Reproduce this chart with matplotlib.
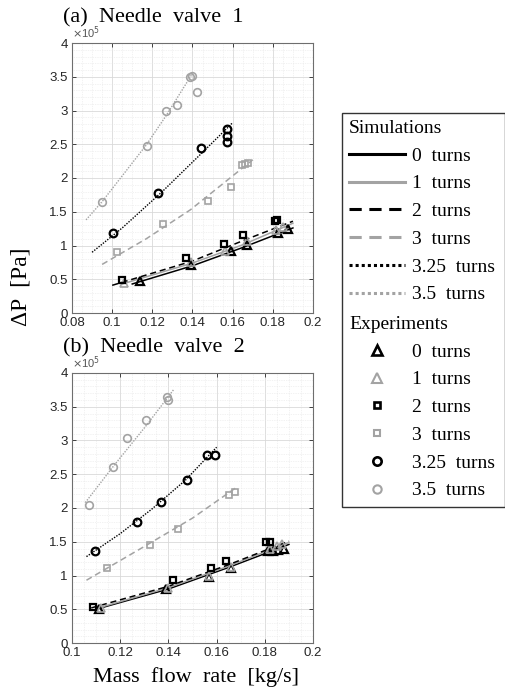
import numpy as np
import matplotlib
matplotlib.use('Agg')
import matplotlib.pyplot as plt
from matplotlib.lines import Line2D
from matplotlib.patches import Rectangle
from matplotlib.ticker import MultipleLocator, FuncFormatter

SERIF = 'Liberation Serif'
SANS = 'Liberation Sans'

TURNS = ['0', '1', '2', '3', '3.25', '3.5']
COLORS = ['black', '#a3a3a3', 'black', '#a3a3a3', 'black', '#a3a3a3']
LSTYLES = ['-', '-', (0, (4, 2.5)), (0, (4, 2.5)), (0, (1, 1)), (0, (1, 1))]
MARKERS = ['^', '^', 's', 's', 'o', 'o']
MSIZE = [6, 6, 4.5, 4.5, 5.5, 5.5]

# ---- (a) Needle valve 1 : simulations (dP in 1e5 Pa) ----
a_sim0_x = [0.110, 0.140, 0.165, 0.190]
a_sim0_y = [0.43, 0.70, 0.97, 1.26]
a_sim1_x = [0.105, 0.140, 0.165, 0.190]
a_sim1_y = [0.43, 0.74, 1.01, 1.33]
a_sim2_x = [0.100, 0.140, 0.165, 0.190]
a_sim2_y = [0.41, 0.77, 1.07, 1.36]
a_sim3_x = [0.095, 0.117, 0.139, 0.170]
a_sim3_y = [0.72, 1.10, 1.53, 2.27]
a_sim325_x = [0.090, 0.105, 0.125, 0.145, 0.160]
a_sim325_y = [0.90, 1.26, 1.80, 2.38, 2.82]
a_sim35_x = [0.087, 0.095, 0.117, 0.127, 0.140]
a_sim35_y = [1.38, 1.65, 2.49, 2.93, 3.55]

# ---- (a) experiments ----
a_exp0_x = [0.1140, 0.1395, 0.1594, 0.1669, 0.1827, 0.1876]
a_exp0_y = [0.48, 0.71, 0.92, 1.01, 1.18, 1.24]
a_exp1_x = [0.1060, 0.1395, 0.1560, 0.1670, 0.1818, 0.1850]
a_exp1_y = [0.44, 0.76, 0.92, 1.07, 1.23, 1.28]
a_exp2_x = [0.1050, 0.1370, 0.1558, 0.1652, 0.1810, 0.1823]
a_exp2_y = [0.49, 0.81, 1.02, 1.16, 1.37, 1.38]
a_exp3_x = [0.1022, 0.1255, 0.1478, 0.1590, 0.1645, 0.1660, 0.1675]
a_exp3_y = [0.90, 1.32, 1.66, 1.87, 2.19, 2.21, 2.22]
a_exp325_x = [0.1002, 0.1229, 0.1442, 0.1572, 0.1572, 0.1572]
a_exp325_y = [1.185, 1.78, 2.44, 2.72, 2.62, 2.54]
a_exp35_x = [0.0949, 0.1173, 0.1268, 0.1324, 0.1387, 0.1399, 0.1420]
a_exp35_y = [1.64, 2.48, 2.99, 3.08, 3.50, 3.51, 3.27]

# ---- (b) Needle valve 2 : simulations ----
b_sim0_x = [0.110, 0.140, 0.165, 0.190]
b_sim0_y = [0.50, 0.80, 1.12, 1.46]
b_sim1_x = [0.110, 0.140, 0.165, 0.190]
b_sim1_y = [0.51, 0.82, 1.14, 1.49]
b_sim2_x = [0.108, 0.140, 0.165, 0.190]
b_sim2_y = [0.52, 0.84, 1.16, 1.51]
b_sim3_x = [0.106, 0.130, 0.150, 0.168]
b_sim3_y = [0.93, 1.43, 1.85, 2.30]
b_sim325_x = [0.106, 0.120, 0.133, 0.147, 0.160]
b_sim325_y = [1.28, 1.62, 1.98, 2.41, 2.90]
b_sim35_x = [0.1055, 0.1172, 0.131, 0.1421]
b_sim35_y = [2.08, 2.62, 3.23, 3.75]

# ---- (b) experiments ----
b_exp0_x = [0.111, 0.139, 0.157, 0.166, 0.1814, 0.1834, 0.1855, 0.188]
b_exp0_y = [0.50, 0.80, 0.98, 1.11, 1.36, 1.36, 1.38, 1.40]
b_exp1_x = [0.112, 0.140, 0.157, 0.166, 0.182, 0.185, 0.187]
b_exp1_y = [0.52, 0.82, 1.00, 1.13, 1.40, 1.44, 1.47]
b_exp2_x = [0.1086, 0.1418, 0.1575, 0.1641, 0.1807, 0.1820]
b_exp2_y = [0.54, 0.94, 1.11, 1.21, 1.49, 1.50]
b_exp3_x = [0.1145, 0.1324, 0.1441, 0.1652, 0.1677]
b_exp3_y = [1.11, 1.45, 1.69, 2.19, 2.24]
b_exp325_x = [0.1094, 0.1268, 0.1368, 0.1477, 0.1560, 0.1593]
b_exp325_y = [1.37, 1.80, 2.09, 2.42, 2.78, 2.78]
b_exp35_x = [0.1069, 0.1170, 0.1228, 0.1308, 0.1396, 0.1400]
b_exp35_y = [2.05, 2.60, 3.03, 3.31, 3.65, 3.60]

PANELS = [
    ("(a)  Needle  valve  1", (0.08, 0.2),
     [(a_sim0_x, a_sim0_y), (a_sim1_x, a_sim1_y), (a_sim2_x, a_sim2_y),
      (a_sim3_x, a_sim3_y), (a_sim325_x, a_sim325_y), (a_sim35_x, a_sim35_y)],
     [(a_exp0_x, a_exp0_y), (a_exp1_x, a_exp1_y), (a_exp2_x, a_exp2_y),
      (a_exp3_x, a_exp3_y), (a_exp325_x, a_exp325_y), (a_exp35_x, a_exp35_y)]),
    ("(b)  Needle  valve  2", (0.1, 0.2),
     [(b_sim0_x, b_sim0_y), (b_sim1_x, b_sim1_y), (b_sim2_x, b_sim2_y),
      (b_sim3_x, b_sim3_y), (b_sim325_x, b_sim325_y), (b_sim35_x, b_sim35_y)],
     [(b_exp0_x, b_exp0_y), (b_exp1_x, b_exp1_y), (b_exp2_x, b_exp2_y),
      (b_exp3_x, b_exp3_y), (b_exp325_x, b_exp325_y), (b_exp35_x, b_exp35_y)]),
]

W, H = 506, 695
fig = plt.figure(figsize=(W / 100, H / 100), dpi=100)

def fx(px):
    return px / W

def fy(py):
    return 1 - py / H

axes_pos = [(72, 43, 313, 313), (72, 373, 313, 643)]
title_y = [18, 348]

def edge_w(c):
    return 1.6 if c == 'black' else 1.2

for (title, xlim, sims, exps), (l, t, r, b), ty in zip(PANELS, axes_pos, title_y):
    ax = fig.add_axes([fx(l), fy(b), fx(r - l), (b - t) / H])
    for i, (sx, sy) in enumerate(sims):
        lw = 1.0 if i >= 4 else 1.1
        ax.plot(sx, sy, color=COLORS[i], ls=LSTYLES[i], lw=lw, zorder=3)
    for i, (ex, ey) in enumerate(exps):
        ax.plot(ex, ey, ls='none', marker=MARKERS[i], ms=MSIZE[i],
                mfc='none', mec=COLORS[i], mew=edge_w(COLORS[i]), zorder=4)
    ax.set_xlim(*xlim)
    ax.set_ylim(0, 4)
    ax.xaxis.set_major_locator(MultipleLocator(0.02))
    ax.xaxis.set_minor_locator(MultipleLocator(0.005))
    ax.yaxis.set_major_locator(MultipleLocator(0.5))
    ax.yaxis.set_minor_locator(MultipleLocator(0.1))
    fmt = FuncFormatter(lambda v, p: f"{v:g}")
    ax.xaxis.set_major_formatter(fmt)
    ax.yaxis.set_major_formatter(fmt)
    ax.grid(which='major', color='#d9d9d9', lw=0.6)
    ax.grid(which='minor', color='#e6e6e6', lw=0.5, ls=(0, (1, 1.5)))
    ax.set_axisbelow(True)
    ax.tick_params(which='major', direction='in', length=3, width=0.6,
                   labelsize=9.5, colors='#262626', top=True, right=True, pad=3)
    ax.tick_params(which='minor', length=0)
    for lab in ax.get_xticklabels() + ax.get_yticklabels():
        lab.set_family(SANS)
    for s in ax.spines.values():
        s.set_color('#6e6e6e')
        s.set_linewidth(0.8)
    ax.text(0.0, 1.008, r"$\times$10$^5$", transform=ax.transAxes, ha='left',
            va='bottom', fontsize=8, color='#555555', family=SANS)
    fig.text(fx(63), fy(ty), title, ha='left', va='center',
             fontsize=16, family=SERIF)

fig.text(fx(196), fy(677), "Mass  flow  rate  [kg/s]", ha='center', va='center',
         fontsize=16, family=SERIF)
fig.text(fx(21), fy(287), "ΔP  [Pa]", ha='center', va='center', rotation=90,
         fontsize=17, family=['Liberation Serif', 'DejaVu Serif'])

# legend: one frame, two stacked legends
fig.patches.append(Rectangle((fx(342), fy(507)), fx(505 - 342), (507 - 113) / H,
                             transform=fig.transFigure, fill=False,
                             ec='#333333', lw=1.0))

sim_handles = [Line2D([], [], color=COLORS[i], ls=LSTYLES[i], lw=2.2)
               for i in range(6)]
exp_handles = [Line2D([], [], ls='none', marker=MARKERS[i], ms=MSIZE[i] + 0.5,
                      mfc='none', mec=COLORS[i], mew=edge_w(COLORS[i]) + 0.3)
               for i in range(6)]
labels = [f"{t}  turns" for t in TURNS]

leg_kw = dict(frameon=False, borderpad=0, borderaxespad=0,
              handlelength=2.9, handletextpad=0.35, labelspacing=0.52,
              alignment='left', prop={'family': SERIF, 'size': 14},
              title_fontproperties={'family': SERIF, 'size': 14})
leg1 = fig.legend(sim_handles, labels, loc='upper left', title="Simulations",
                  bbox_to_anchor=(fx(349), fy(120)), **leg_kw)
leg2 = fig.legend(exp_handles, labels, loc='upper left', title="Experiments",
                  bbox_to_anchor=(fx(349), fy(316)), **leg_kw)

fig.savefig("out.png", dpi=100)
